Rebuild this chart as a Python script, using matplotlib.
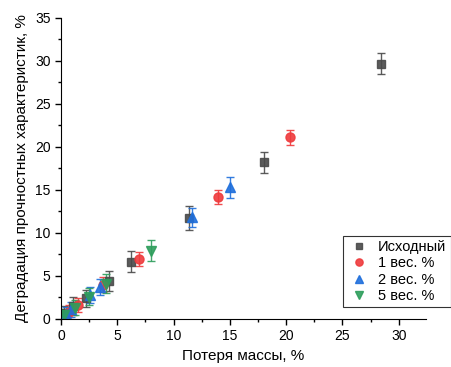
import numpy as np
import matplotlib
matplotlib.use("Agg")
import matplotlib.pyplot as plt
from matplotlib.ticker import MultipleLocator

plt.rcParams["font.family"] = ["Liberation Sans", "DejaVu Sans"]

# Исходный
x0 = [0.3, 1.1, 2.2, 4.3, 6.2, 11.4, 18.05, 28.4]
y0 = [0.7, 1.5, 2.4, 4.4, 6.65, 11.7, 18.2, 29.7]
e0 = [0.8, 1.0, 1.0, 1.2, 1.2, 1.4, 1.2, 1.2]
# 1 вес. %
x1 = [0.7, 1.5, 3.7, 6.95, 13.95, 20.35]
y1 = [0.8, 1.6, 4.0, 7.0, 14.2, 21.1]
e1 = [0.8, 0.8, 0.9, 0.8, 0.8, 0.9]
# 2 вес. %
x2 = [0.4, 0.85, 2.55, 3.45, 11.65, 15.05]
y2 = [0.6, 1.1, 2.8, 3.7, 11.8, 15.3]
e2 = [0.8, 0.9, 0.9, 0.9, 1.1, 1.2]
# 5 вес. %
x5 = [0.25, 1.2, 2.45, 4.0, 7.95]
y5 = [0.4, 1.3, 2.6, 4.1, 7.95]
e5 = [0.8, 0.9, 1.0, 1.1, 1.2]

labels = ["Исходный", "1 вес. %", "2 вес. %", "5 вес. %"]
series = [(x0, y0, e0), (x1, y1, e1), (x2, y2, e2), (x5, y5, e5)]
colors = ["#4a4a4a", "#ef3a3c", "#1f6fdc", "#2e9e5c"]
markers = ["s", "o", "^", "v"]
msizes = [6, 6.5, 7, 7]

fig = plt.figure(figsize=(4.52, 3.67), dpi=100)
ax = fig.add_axes([0.135, 0.131, 0.807, 0.820])

for (x, y, e), c, m, ms, lab in zip(series, colors, markers, msizes, labels):
    ax.errorbar(x, y, yerr=e, fmt=m, color=c, ms=ms, mec=c, ecolor=c,
                elinewidth=1.0, capsize=3, capthick=1.0, alpha=0.9, label=lab)

ax.set_xlim(0, 32.4)
ax.set_ylim(0, 35)
ax.xaxis.set_major_locator(MultipleLocator(5))
ax.xaxis.set_minor_locator(MultipleLocator(2.5))
ax.yaxis.set_major_locator(MultipleLocator(5))
ax.yaxis.set_minor_locator(MultipleLocator(2.5))
ax.tick_params(which="major", direction="out", length=4, width=1, labelsize=10)
ax.tick_params(which="minor", direction="out", length=2.5, width=1)
ax.spines["top"].set_visible(False)
ax.spines["right"].set_visible(False)

ax.set_xlabel("Потеря массы, %", fontsize=11)
ax.set_ylabel("Деградация прочностных характеристик, %", fontsize=11)

handles, labs = ax.get_legend_handles_labels()
handles = [h[0] for h in handles]
leg = ax.legend(handles, labs, loc="upper left", bbox_to_anchor=(0.773, 0.276),
                borderaxespad=0, fontsize=10.5, frameon=True, fancybox=False,
                edgecolor="black", handletextpad=0.5, borderpad=0.3,
                labelspacing=0.15, handlelength=1.6, markerscale=0.8)
leg.get_frame().set_linewidth(0.8)

fig.savefig("out.png", dpi=100)
